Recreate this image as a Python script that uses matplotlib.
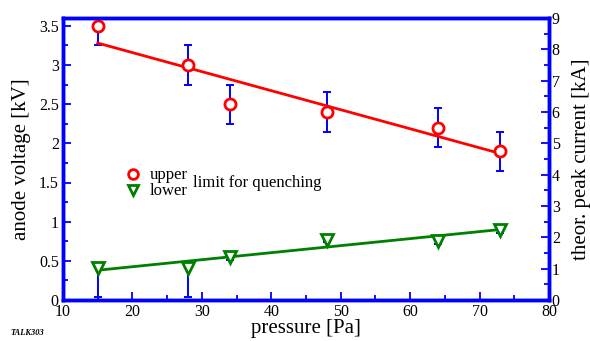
import matplotlib
matplotlib.use("Agg")
import matplotlib.pyplot as plt
from matplotlib.ticker import MultipleLocator
from matplotlib.lines import Line2D

plt.rcParams['font.family'] = ['Liberation Serif', 'DejaVu Serif']

# data
pressure = [15, 28, 34, 48, 64, 73]
upper = [3.5, 3.0, 2.5, 2.4, 2.2, 1.9]
upper_err = [0.25, 0.25, 0.25, 0.25, 0.25, 0.25]
lower = [0.41, 0.41, 0.55, 0.77, 0.75, 0.89]
lower_err_minus = [0.37, 0.37, 0.04, 0.03, 0.03, 0.03]
lower_err_plus = [0.0, 0.0, 0.0, 0.0, 0.0, 0.0]
fit_x = [15, 73]
fit_upper = [3.28, 1.87]
fit_lower = [0.38, 0.90]

blue = '#0000ff'
fig = plt.figure(figsize=(5.9, 3.41), dpi=100)
ax = fig.add_axes([63/590, 41/341, (549-63)/590, (300-18)/341])

ax.errorbar(pressure, upper, yerr=upper_err, fmt='none', ecolor=blue, elinewidth=1.4, capsize=3, capthick=1.4, zorder=2)
ax.errorbar(pressure, lower, yerr=[lower_err_minus, lower_err_plus], fmt='none', ecolor=blue, elinewidth=1.4, capsize=3, capthick=1.4, zorder=2)
ax.plot(fit_x, fit_upper, color='#ff0000', lw=2, zorder=3)
ax.plot(fit_x, fit_lower, color='#008000', lw=2, zorder=3)
ax.plot(pressure, upper, 'o', ms=8, mfc='white', mec='#ff0000', mew=2, zorder=4)
ax.plot(pressure, lower, 'v', ms=8.5, mfc='white', mec='#008000', mew=2, zorder=4)

ax.set_xlim(10, 80)
ax.set_ylim(0, 3.6)
ax.xaxis.set_major_locator(MultipleLocator(10))
ax.xaxis.set_minor_locator(MultipleLocator(5))
ax.yaxis.set_major_locator(MultipleLocator(0.5))
ax.yaxis.set_minor_locator(MultipleLocator(0.25))
ax.yaxis.set_major_formatter(matplotlib.ticker.FuncFormatter(lambda v, p: ('%g' % v)))

ax2 = ax.twinx()
ax2.set_ylim(0, 9)
ax2.yaxis.set_major_locator(MultipleLocator(1))
ax2.yaxis.set_minor_locator(MultipleLocator(0.5))

for a in (ax, ax2):
    for s in a.spines.values():
        s.set_color(blue)
        s.set_linewidth(2.5)
    a.tick_params(which='both', direction='in', color=blue, labelsize=11.5, width=1.3)
    a.tick_params(which='major', length=6)
    a.tick_params(which='minor', length=3.5)
ax.tick_params(axis='x', pad=3)
ax.tick_params(axis='y', pad=3)
ax2.tick_params(axis='y', pad=2)

ax.set_xlabel('pressure [Pa]', fontsize=15, labelpad=-1)
ax.set_ylabel('anode voltage [kV]', fontsize=15, labelpad=6)
ax2.set_ylabel('theor. peak current [kA]', fontsize=15, labelpad=9)

handles = [Line2D([], [], ls='none', marker='o', ms=7, mfc='white', mec='#ff0000', mew=2),
           Line2D([], [], ls='none', marker='v', ms=7.5, mfc='white', mec='#008000', mew=2)]
leg = ax.legend(handles, ['upper', 'lower'], loc='upper left', bbox_to_anchor=(0.13, 0.47),
                frameon=False, fontsize=12, handlelength=0.8, handletextpad=0.6,
                labelspacing=0.0, borderpad=0, borderaxespad=0)
ax.text(0.268, 0.415, 'limit for quenching', transform=ax.transAxes, fontsize=12, va='center', ha='left')

fig.text(10/590, 1 - 333/341, 'TALK303', fontsize=6, style='italic', weight='bold', va='center', ha='left')

fig.savefig('out.png', dpi=100)
